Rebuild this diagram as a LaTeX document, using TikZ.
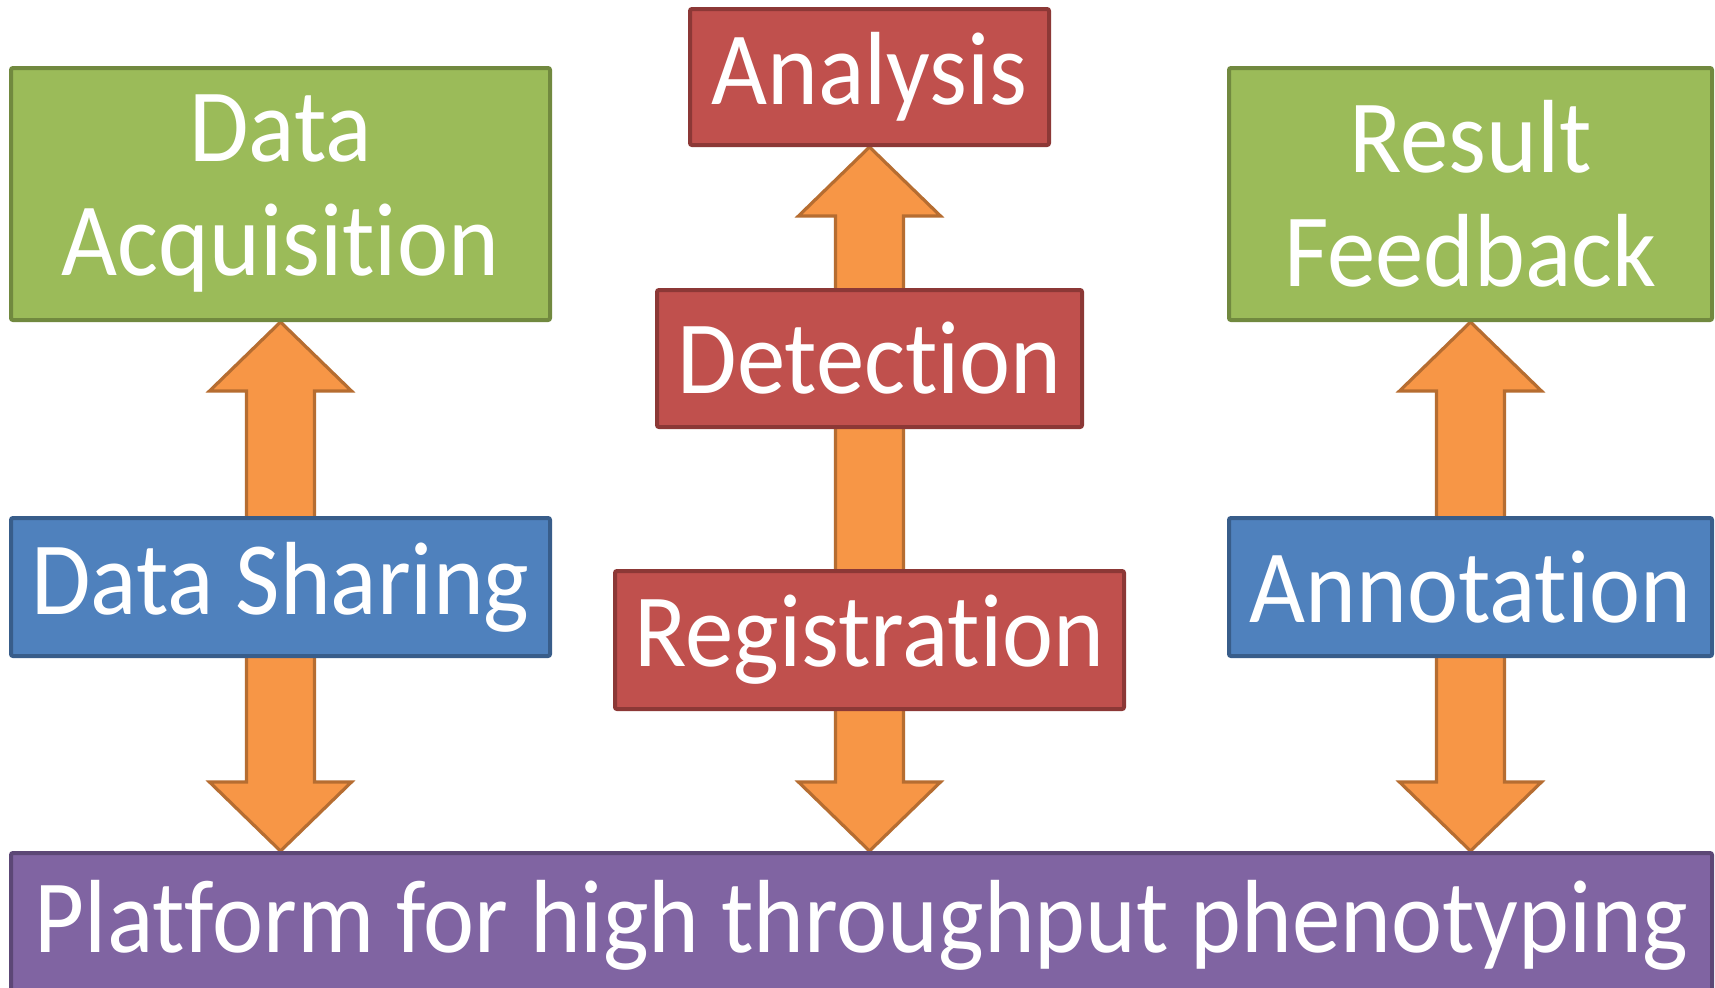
\documentclass[tikz,border=0pt]{standalone}
\usepackage{fontspec}
\setmainfont{Carlito}[FakeStretch=0.93, RawFeature=-liga]
\usetikzlibrary{calc}

\definecolor{greenfill}{HTML}{9BBB59}
\definecolor{greenline}{HTML}{71893F}
\definecolor{redfill}{HTML}{C0504D}
\definecolor{redline}{HTML}{8C3836}
\definecolor{bluefill}{HTML}{4F81BD}
\definecolor{blueline}{HTML}{385D8A}
\definecolor{purplefill}{HTML}{8064A2}
\definecolor{purpleline}{HTML}{5C4776}
\definecolor{orangefill}{HTML}{F79646}
\definecolor{orangeline}{HTML}{B66D31}

\pgfdeclarelayer{under}
\pgfsetlayers{under,main}

% one drawing unit is 0.5pt; sizes of boxes are given in pt (= units / 2)
\tikzset{
  box/.style={draw, line width=2pt, rounded corners=1pt, inner sep=0pt,
    text=white, align=center, font=\fontsize{52}{57}\selectfont},
  greenbox/.style={box, fill=greenfill, draw=greenline},
  redbox/.style={box, fill=redfill, draw=redline},
  bluebox/.style={box, fill=bluefill, draw=blueline},
  purplebox/.style={box, fill=purplefill, draw=purpleline},
  blockarrow/.style={fill=orangefill, draw=orangeline, line width=1.6pt, line join=miter},
}

% block arrow: #1 tip, #2 tail, #3 = 1 pointing up, -1 pointing down
\newcommand\blockarrow[3]{%
  \path[blockarrow] let \p1=(#1), \p2=(#2), \n1={\y1-(#3)*34.5pt} in
    (\p1) -- (\x1+35.5pt,\n1) -- (\x1+17pt,\n1)
    -- (\x1+17pt,\y2) -- (\x1-17pt,\y2) -- (\x1-17pt,\n1)
    -- (\x1-35.5pt,\n1) -- cycle;}

\begin{document}
\begin{tikzpicture}[x=0.5pt, y=-0.5pt]
  \useasboundingbox (0,0) rectangle (1715,987);

  \node[greenbox, minimum width=269.5pt, minimum height=126pt] (acq) at (280.5,194) {Data\\Acquisition};
  \node[redbox, minimum width=179.5pt, minimum height=68pt] (ana) at (869.5,77) {Analysis};
  \node[greenbox, minimum width=241.5pt, minimum height=126pt] (res) at (1470.5,194) {Result\\Feedback};
  \node[redbox, minimum width=212.5pt, minimum height=68.5pt] (det) at (869.5,358.5) {Detection};
  \node[bluebox, minimum width=269.5pt, minimum height=69pt] (share) at (280.5,587) {Data Sharing};
  \node[redbox, minimum width=254.5pt, minimum height=69pt] (reg) at (869.5,640) {Registration};
  \node[bluebox, minimum width=241.5pt, minimum height=69pt] (ann) at (1470.5,587) {Annotation};
  \node[purplebox, minimum width=850.5pt, minimum height=72pt] (plat) at (861.5,925)
    {Platform for high throughput phenotyping};

  \begin{pgfonlayer}{under}
    \fill[white] (0,0) rectangle (1715,987);
    \blockarrow{acq.south}{share.center}{1}
    \blockarrow{share.south |- plat.north}{share.center}{-1}
    \blockarrow{ana.south}{reg.center}{1}
    \blockarrow{reg.south |- plat.north}{reg.center}{-1}
    \blockarrow{res.south}{ann.center}{1}
    \blockarrow{ann.south |- plat.north}{ann.center}{-1}
  \end{pgfonlayer}
\end{tikzpicture}
\end{document}
